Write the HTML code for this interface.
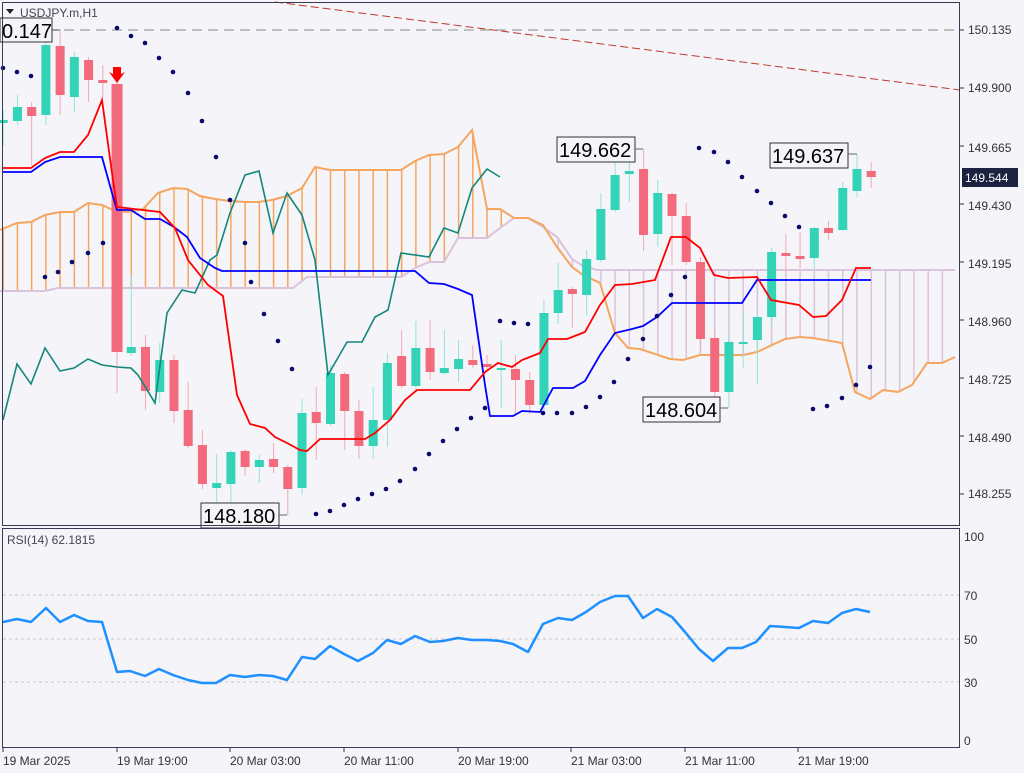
<!DOCTYPE html>
<html><head><meta charset="utf-8">
<style>
html,body{margin:0;padding:0;background:#f4f4f9;}
svg{display:block;font-family:"Liberation Sans",sans-serif;}
</style></head><body>
<svg id="c" width="1024" height="773" viewBox="0 0 1024 773" xmlns="http://www.w3.org/2000/svg">
<rect width="1024" height="773" fill="#f4f4f9"/>
<g id="cloud"></g>
<line x1="0" y1="30" x2="960" y2="30" stroke="#b0b0b0" stroke-width="1.5" stroke-dasharray="10,6"/>
<line x1="275" y1="2" x2="960" y2="90" stroke="#c0392b" stroke-width="1" stroke-dasharray="8,4"/>
<g id="candles"></g>
<g id="lines"></g>
<g id="sar" fill="#0a0a6e"></g>
<!-- down arrow -->
<path d="M113,67 L121,67 L121,74 L125,72 L117,83 L109,72 L113,74Z" fill="#f00"/>
<!-- labels -->
<g font-size="20" fill="#000">
<rect x="0" y="18" width="52" height="24" fill="#f4f4f9" stroke="#333"/><line x1="52" y1="30" x2="60" y2="30" stroke="#666"/><text x="2" y="38">0.147</text>
<rect x="557" y="137" width="78" height="25" fill="#f4f4f9" stroke="#333"/><line x1="635" y1="149" x2="643" y2="149" stroke="#666"/><text x="559" y="157">149.662</text>
<rect x="770" y="143" width="78" height="25" fill="#f4f4f9" stroke="#333"/><line x1="848" y1="154" x2="857" y2="154" stroke="#666"/><text x="772" y="163">149.637</text>
<rect x="643" y="397" width="77" height="25" fill="#f4f4f9" stroke="#333"/><line x1="720" y1="408" x2="728" y2="408" stroke="#666"/><text x="645" y="417">148.604</text>
<rect x="201" y="503" width="78" height="25" fill="#f4f4f9" stroke="#333"/><line x1="279" y1="515" x2="287" y2="515" stroke="#666"/><text x="203" y="523">148.180</text>
</g>
<!-- header -->
<path d="M6,9 L14,9 L10,14Z" fill="#222"/>
<text x="20" y="17" font-size="12" fill="#445">USDJPY.m,H1</text>
<!-- frames -->
<rect x="2.5" y="2.5" width="957" height="523" fill="none" stroke="#3a3a55" stroke-width="1"/>
<rect x="2.5" y="528.5" width="957" height="219" fill="none" stroke="#3a3a55" stroke-width="1"/>
<!-- price axis -->
<g font-size="12" fill="#333">
<text x="968" y="34">150.135</text><text x="968" y="92">149.900</text><text x="968" y="152">149.665</text>
<text x="968" y="210">149.430</text><text x="968" y="268">149.195</text><text x="968" y="326">148.960</text>
<text x="968" y="384">148.725</text><text x="968" y="442">148.490</text><text x="968" y="498">148.255</text>
</g>
<g stroke="#333"><line x1="960" y1="30" x2="964" y2="30"/><line x1="960" y1="88" x2="964" y2="88"/><line x1="960" y1="146" x2="964" y2="146"/><line x1="960" y1="204" x2="964" y2="204"/><line x1="960" y1="262" x2="964" y2="262"/><line x1="960" y1="320" x2="964" y2="320"/><line x1="960" y1="378" x2="964" y2="378"/><line x1="960" y1="436" x2="964" y2="436"/><line x1="960" y1="494" x2="964" y2="494"/></g>
<rect x="962" y="168" width="56" height="19" fill="#1c2340"/>
<text x="965" y="182" font-size="12" fill="#fff">149.544</text>
<!-- RSI -->
<text x="7" y="544" font-size="12" fill="#445">RSI(14) 62.1815</text>
<g stroke="#c8c8c8" stroke-dasharray="3,3"><line x1="3" y1="595" x2="959" y2="595"/><line x1="3" y1="639" x2="959" y2="639"/><line x1="3" y1="682" x2="959" y2="682"/></g>
<polyline fill="none" stroke="#1e90ff" stroke-width="2.5" stroke-linejoin="round" points="3,622 17,619 31,622 46,608 60,622 74,615 88,621 102,622 117,672 130,671 145,676 159,669 173,675 188,680 202,683 216,683 230,675 245,677 259,675 273,676 287,680 302,657 315,659 330,646 344,654 358,661 373,653 387,640 401,644 415,636 430,642 443,641 458,638 472,640 487,640 500,641 513,644 528,652 543,624 558,618 572,620 586,612 600,602 615,596 628,596 643,618 657,609 672,617 685,632 699,649 713,661 728,648 742,648 756,642 770,626 785,627 799,628 813,621 828,623 842,613 856,609 870,612"/>
<g font-size="12" fill="#333"><text x="964" y="541">100</text><text x="964" y="600">70</text><text x="964" y="644">50</text><text x="964" y="687">30</text><text x="964" y="745">0</text></g>
<!-- time axis -->
<g stroke="#333"><line x1="3" y1="748" x2="3" y2="752"/><line x1="117" y1="748" x2="117" y2="752"/><line x1="230" y1="748" x2="230" y2="752"/><line x1="344" y1="748" x2="344" y2="752"/><line x1="458" y1="748" x2="458" y2="752"/><line x1="571" y1="748" x2="571" y2="752"/><line x1="685" y1="748" x2="685" y2="752"/><line x1="798" y1="748" x2="798" y2="752"/></g>
<g font-size="12" fill="#333"><text x="3" y="765">19 Mar 2025</text><text x="117" y="765">19 Mar 19:00</text><text x="230" y="765">20 Mar 03:00</text><text x="344" y="765">20 Mar 11:00</text><text x="458" y="765">20 Mar 19:00</text><text x="571" y="765">21 Mar 03:00</text><text x="685" y="765">21 Mar 11:00</text><text x="798" y="765">21 Mar 19:00</text></g>
</svg>
<script>
var NS="http://www.w3.org/2000/svg";
function el(p,t,a){var e=document.createElementNS(NS,t);for(var k in a)e.setAttribute(k,a[k]);document.getElementById(p).appendChild(e);return e;}
function X(i){return 3.2+14.23*i;}
var A=[[0,230],[17,223],[31,222],[45,215],[60,212],[74,212],[88,203],[102,205],[113,210],[127,212],[143,209],[158,193],[173,188],[187,189],[200,196],[215,199],[230,201],[245,202],[258,202],[272,200],[287,196],[302,188],[315,167],[330,170],[344,170],[358,170],[380,170],[401,170],[415,161],[429,155],[444,154],[458,147],[472,130],[487,209],[500,209],[514,218],[528,218],[543,225],[557,247],[572,267],[583,275],[600,283],[615,333],[628,348],[640,349],[670,359],[683,360],[700,355],[727,355],[743,355],[757,352],[785,339],[800,337],[813,338],[842,343],[855,392],[870,399],[883,390],[898,392],[912,385],[927,363],[942,363],[955,357]];
var B=[[0,291],[45,291],[58,288],[293,288],[307,277],[401,277],[415,268],[429,262],[444,262],[458,238],[487,238],[500,228],[514,218],[528,218],[543,227],[557,237],[572,259],[583,266],[597,270],[955,270]];
function interp(P,x){for(var i=0;i<P.length-1;i++){if(x>=P[i][0]&&x<=P[i+1][0]){var t=(x-P[i][0])/(P[i+1][0]-P[i][0]);return P[i][1]+t*(P[i+1][1]-P[i][1]);}}return P[P.length-1][1];}
for(var i=0;i<68;i++){var x=X(i);if(x>955)break;var a=interp(A,x),b=interp(B,x);if(Math.abs(a-b)<1)continue;
el("cloud","line",{x1:x,x2:x,y1:Math.min(a,b),y2:Math.max(a,b),stroke:a<b?"#f6a55e":"#dcc3dc","stroke-width":1.5});}
function pts(P){return P.map(function(p){return p[0]+","+p[1]}).join(" ");}
el("cloud","polyline",{points:pts(B),fill:"none",stroke:"#dcc3dc","stroke-width":2});
el("cloud","polyline",{points:pts(A),fill:"none",stroke:"#f6a55e","stroke-width":2});
var C=[[120,123,110,146,1],[107,121,95,125,1],[107,116,102,165,0],[45,115,38,125,1],[46,95,29,115,0],[57,97,52,112,1],[60,80,57,102,0],[80,83,65,97,0],[84,352,70,393,0],[347,353,275,356,1],[347,391,335,410,0],[360,392,343,403,1],[360,411,355,423,0],[410,446,382,448,0],[445,484,430,489,0],[483,488,454,510,1],[452,484,450,510,1],[451,467,449,476,0],[460,467,455,483,1],[459,467,443,473,0],[467,489,465,515,0],[413,488,399,495,1],[412,423,387,460,0],[373,424,365,426,1],[374,411,372,450,0],[411,446,400,459,0],[420,446,387,459,1],[363,420,353,447,1],[356,386,330,388,0],[348,386,321,390,1],[348,372,320,380,0],[368,373,330,375,1],[359,369,340,382,1],[360,365,345,368,0],[364,367,355,370,0],[368,370,340,408,1],[369,380,355,414,0],[380,405,372,414,0],[313,405,300,410,1],[290,313,263,324,1],[289,294,287,328,0],[259,295,250,316,1],[209,260,193,262,1],[175,210,153,212,1],[171,174,160,202,1],[169,235,149,251,0],[193,234,180,247,1],[194,216,193,265,0],[216,262,203,265,0],[262,339,257,350,0],[338,392,330,400,0],[342,392,335,408,1],[342,344,313,368,1],[317,340,313,384,1],[252,317,248,328,1],[253,256,234,271,0],[256,259,232,268,0],[228,258,227,270,1],[228,233,221,240,0],[188,230,182,231,1],[169,191,154,197,1],[171,177,162,188,0]];
C.forEach(function(c,i){var x=X(i),col=c[4]?"#33d3b8":"#f36a7c",wc=c[4]?"#8fe6d6":"#f6a8b2";var h=c[1]-c[0];var big=(i==8);
el("candles","line",{x1:x,x2:x,y1:c[2],y2:c[3],stroke:wc,"stroke-width":1});
el("candles","rect",{x:x-(big?5.5:4.5),y:c[0],width:big?11:9,height:Math.max(h,2),fill:col});});
var red=[[3,168],[31,168],[45,158],[60,152],[74,152],[88,135],[102,100],[112,173],[117,207],[160,212],[175,228],[188,260],[208,285],[223,296],[237,395],[250,424],[265,428],[275,437],[287,443],[300,450],[307,451],[320,439],[365,439],[375,433],[390,420],[405,400],[417,390],[470,390],[485,372],[498,363],[512,367],[522,360],[540,353],[548,339],[567,339],[585,332],[600,305],[615,285],[632,284],[655,280],[671,237],[686,237],[700,248],[714,275],[728,278],[757,277],[771,300],[799,305],[813,317],[826,316],[842,300],[856,268],[871,268]];
var blue=[[3,172],[31,172],[45,162],[60,157],[102,157],[112,193],[117,210],[131,210],[145,219],[160,219],[174,227],[187,237],[200,258],[215,268],[222,271],[415,271],[429,283],[444,284],[458,289],[472,295],[485,385],[490,416],[513,416],[522,411],[540,412],[553,388],[573,388],[585,381],[600,355],[615,333],[632,329],[643,326],[657,317],[672,303],[742,303],[757,280],[871,280]];
var teal=[[3,420],[17,364],[31,384],[45,348],[60,371],[74,368],[88,359],[102,365],[117,367],[131,368],[138,375],[155,403],[167,313],[182,290],[195,293],[210,260],[217,255],[230,213],[245,175],[259,171],[273,233],[287,193],[302,215],[315,260],[328,375],[347,342],[362,342],[375,317],[388,310],[401,253],[429,257],[444,228],[458,233],[472,188],[487,169],[500,177]];
el("lines","polyline",{points:pts(teal),fill:"none",stroke:"#12877a","stroke-width":1.6});
el("lines","polyline",{points:pts(blue),fill:"none",stroke:"#0000ff","stroke-width":1.8});
el("lines","polyline",{points:pts(red),fill:"none",stroke:"#ff0000","stroke-width":1.8});
var S=[[3,68],[17,72],[31,76],[45,277],[58,272],[72,262],[88,253],[103,243],[117,28],[131,36],[145,43],[159,58],[173,72],[188,93],[202,121],[216,157],[230,200],[245,243],[251,282],[264,314],[278,341],[292,369],[316,514],[330,511],[344,505],[358,499],[372,494],[386,489],[400,481],[415,469],[429,454],[443,441],[457,429],[471,418],[485,408],[500,321],[514,323],[528,324],[543,413],[557,413],[572,413],[586,407],[600,397],[614,382],[628,359],[643,339],[657,316],[671,295],[685,277],[699,148],[714,152],[728,162],[742,177],[757,191],[771,203],[785,216],[799,227],[813,409],[827,406],[842,398],[856,385],[870,367]];
S.forEach(function(p){el("sar","circle",{cx:p[0],cy:p[1],r:2.3});});
</script>
</body></html>
